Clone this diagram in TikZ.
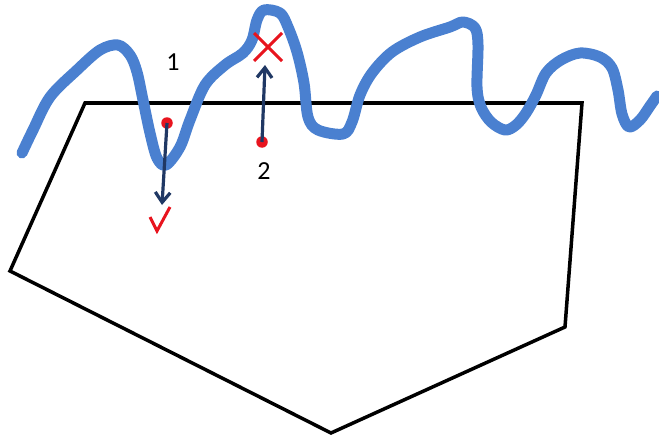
\documentclass[tikz,border=0pt]{standalone}
\usepackage{fontspec}
\setmainfont{Carlito}
\usetikzlibrary{arrows.meta}
\definecolor{wave}{RGB}{74,128,208}
\definecolor{navy}{RGB}{32,56,100}
\definecolor{signred}{RGB}{232,20,30}

\begin{document}
\begin{tikzpicture}[x=1pt, y=-1pt,
    dot/.style={circle, fill=signred, inner sep=0pt, minimum size=11.5pt},
    lbl/.style={font=\fontsize{26}{30}\selectfont, inner sep=0pt},
    arr/.style={-{Straight Barb[length=10pt, width=15pt]}, navy, line width=3.2pt},
    sign/.style={signred, line width=3pt}
  ]
    \useasboundingbox (0,0) rectangle (659,436);
    % region
    \draw[line width=3.5pt] (85,103) -- (582,103) -- (565,327) -- (331,433) -- (10,271) -- cycle;
    % wave
    \draw[wave, line width=11pt, line cap=round, line join=round] plot[smooth, tension=0.55] coordinates {
      (22,153) (33,130) (50,97) (77,70) (100,50) (118,45) (130,55) (137,72)
      (143,100) (150,133) (157,158) (166,165) (180,147) (190,120) (205,85)
      (225,65) (243,53) (252,40) (257,20) (264,10) (280,13) (288,27) (297,52)
      (304,83) (308,117) (318,130) (343,134) (352,122) (360,95) (372,73)
      (392,52) (420,37) (450,27) (463,22) (475,28) (478,45) (477,87) (481,107)
      (491,122) (505,130) (516,125) (526,113) (536,95) (546,73) (561,60)
      (580,53) (600,57) (612,68) (618,90) (622,114) (629,127) (640,120)
      (650,106) (657,96)};
    % points
    \node[dot] (p1) at (167,123) {};
    \node[dot] (p2) at (262,142) {};
    \node[lbl] (n1) at (173,62) {1};
    \node[lbl] (n2) at (264,171) {2};
    \coordinate (ok) at (162,205);
    \coordinate (no) at (265,65);
    \draw[arr] (p1.center) -- (ok);
    \draw[arr] (p2.center) -- (no);
    % check and cross
    \draw[sign] (150,217) -- (157,231) -- (170,207);
    \draw[sign] (254,33) -- (282,61);
    \draw[sign] (282,33) -- (254,61);
\end{tikzpicture}
\end{document}
